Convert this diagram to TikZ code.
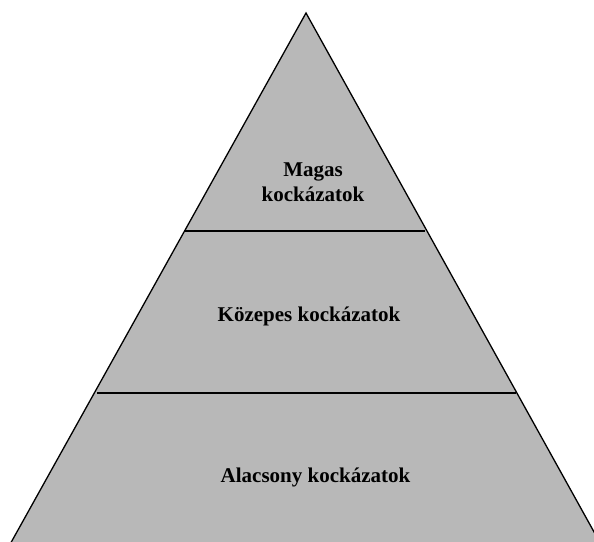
\documentclass[tikz,border=0pt]{standalone}
\usepackage{fontspec}
\setmainfont{Liberation Serif}
\definecolor{pyrfill}{RGB}{184,184,184}
\begin{document}
\begin{tikzpicture}[x=1pt,y=1pt,
  edge/.style={draw=black,line width=1.3pt},
  tier/.style={draw=black,line width=1.3pt},
  label/.style={font=\fontsize{21}{25}\selectfont\bfseries,inner sep=0pt,align=center,text=black}]
\useasboundingbox (0,0) rectangle (594,541);
\clip (0,0) rectangle (594,541);
\coordinate (apex) at (306,528);
\coordinate (bl) at (6.3,-10);
\coordinate (br) at (604.6,-10);
\fill[pyrfill] (apex) -- (bl) -- (br) -- cycle;
\draw[edge,line join=miter] (bl) -- (apex) -- (br);
\coordinate (t1l) at (185,310);
\coordinate (t1r) at (425,310);
\coordinate (t2l) at (97,148);
\coordinate (t2r) at (516,148);
\draw[tier] (t1l) -- (t1r);
\draw[tier] (t2l) -- (t2r);
\node[label,anchor=base] (high) at (313,339) {Magas\\kockázatok};
\node[label,anchor=base] (mid) at (309,219) {Közepes kockázatok};
\node[label,anchor=base] (low) at (315.5,59) {Alacsony kockázatok};
\end{tikzpicture}
\end{document}
